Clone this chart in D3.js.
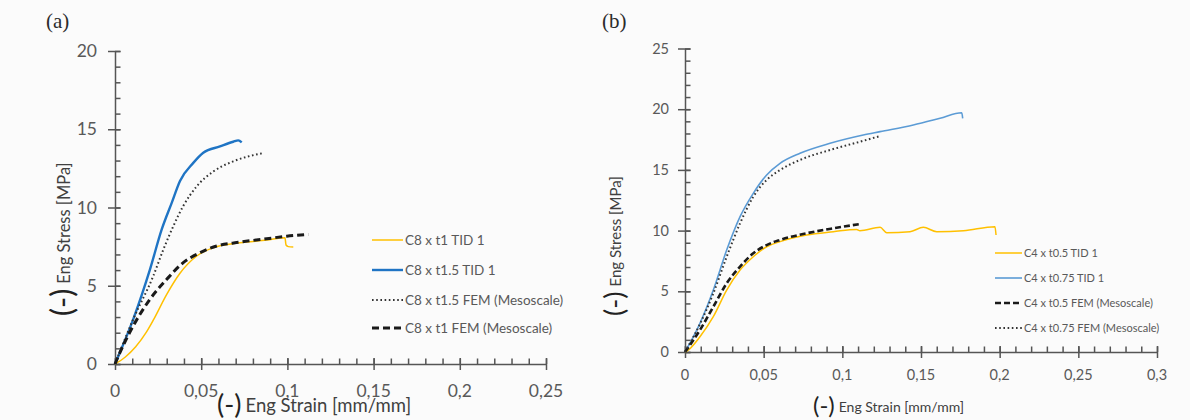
<!DOCTYPE html>
<html>
<head>
<meta charset="utf-8">
<script src="https://cdn.jsdelivr.net/npm/d3@7"></script>
<style>
  html, body { margin: 0; padding: 0; background: #fbfbfb; }
  svg { display: block; font-family: Lato, "Open Sans", sans-serif; }
  .tick-label { fill: #595959; }
  .legend-text { fill: #595959; }
</style>
</head>
<body>
<svg id="chart" width="1190" height="420"></svg>
<script>
// Panel (a): C8 specimens, strain [mm/mm] vs stress [MPa]
const xTicksA = [0, 0.05, 0.1, 0.15, 0.2, 0.25];
const yTicksA = [0, 5, 10, 15, 20];

const c8t1Tid = [
  [0, 0], [0.006, 0.45], [0.012, 1.1], [0.018, 2.0], [0.0222, 2.8], [0.03, 4.45], [0.0377, 5.8],
  [0.0474, 6.9], [0.057, 7.43], [0.0725, 7.75], [0.088, 7.92], [0.0986, 8.07],
  [0.0992, 7.6], [0.1005, 7.5], [0.1034, 7.47]
];
const c8t15Tid = [
  [0, 0], [0.0106, 2.87], [0.0203, 6.05], [0.0271, 8.6], [0.0329, 10.3], [0.0377, 11.7],
  [0.0454, 12.85], [0.0512, 13.5], [0.0609, 13.9], [0.0686, 14.2], [0.0715, 14.29], [0.0735, 14.16]
];
const c8t15Fem = [
  [0, 0], [0.0106, 2.87], [0.0222, 5.62], [0.028, 7.3], [0.0338, 8.8], [0.0396, 10.1],
  [0.0474, 11.35], [0.057, 12.3], [0.0686, 12.95], [0.086, 13.48]
];
const c8t1Fem = [
  [0, 0], [0.0029, 0.74], [0.0106, 2.44], [0.0203, 4.14], [0.03, 5.41], [0.0396, 6.48],
  [0.0493, 7.11], [0.059, 7.54], [0.0725, 7.79], [0.088, 8.0], [0.0996, 8.17], [0.1121, 8.28]
];

// Panel (b): C4 specimens
const xTicksB = [0, 0.05, 0.1, 0.15, 0.2, 0.25, 0.3];
const yTicksB = [0, 5, 10, 15, 20, 25];

const c4t05Tid = [
  [0, 0], [0.001, 0.06], [0.0095, 1.26], [0.018, 2.91], [0.0265, 5.1], [0.035, 6.75],
  [0.0434, 7.85], [0.0519, 8.67], [0.0604, 9.09], [0.0773, 9.64], [0.0943, 9.91],
  [0.1091, 10.1], [0.1112, 9.99], [0.124, 10.27], [0.1282, 9.83], [0.143, 9.91],
  [0.1515, 10.27], [0.16, 9.91], [0.177, 9.99], [0.197, 10.32], [0.1977, 9.64]
];
const c4t075Tid = [
  [0, 0], [0.0095, 2.36], [0.018, 5.1], [0.0265, 8.4], [0.035, 11.15], [0.0434, 13.07],
  [0.0519, 14.58], [0.0604, 15.54], [0.0731, 16.37], [0.0922, 17.19], [0.1133, 17.87],
  [0.124, 18.15], [0.1451, 18.7], [0.1621, 19.25], [0.1759, 19.71], [0.1765, 19.25]
];
const c4t05Fem = [
  [0, 0], [0.0095, 1.81], [0.018, 3.73], [0.0265, 5.66], [0.035, 7.03], [0.0434, 8.13],
  [0.0519, 8.81], [0.0604, 9.23], [0.0773, 9.78], [0.0943, 10.19], [0.1112, 10.54]
];
const c4t075Fem = [
  [0, 0], [0.0095, 2.3], [0.018, 4.83], [0.0265, 7.85], [0.035, 10.6], [0.0434, 12.79],
  [0.0519, 14.17], [0.0604, 14.99], [0.0731, 15.82], [0.0922, 16.64], [0.1112, 17.32], [0.124, 17.79]
];

const legendA = ['C8 x t1 TID 1', 'C8 x t1.5 TID 1', 'C8 x t1.5 FEM (Mesoscale)', 'C8 x t1 FEM (Mesoscale)'];
const legendB = ['C4 x t0.5 TID 1', 'C4 x t0.75 TID 1', 'C4 x t0.5 FEM (Mesoscale)', 'C4 x t0.75 FEM (Mesoscale)'];

const styles = {
  yellow: { stroke: '#ffc000', width: 1.5, dash: null },
  blueDark: { stroke: '#1f74c4', width: 2.4, dash: null },
  blueLight: { stroke: '#5b9bd5', width: 1.6, dash: null },
  dashed: { stroke: '#1a1a1a', width: 3, dash: '7,4' },
  dashedB: { stroke: '#1a1a1a', width: 2.6, dash: '6,3' },
  dotted: { stroke: '#333', width: 2, dash: '1.6,2.6' }
};

const AXIS_COLOR = '#555';
const fmt = d => d === 0 ? '0' : String(d).replace('.', ',');

const svg = d3.select('#chart');

function styleAxis(sel) {
  sel.selectAll('line, path')
    .attr('stroke', AXIS_COLOR)
    .attr('stroke-width', 1.5);
}

function drawAxes(g, p, x, y) {
  // minor ticks (every 0.01 strain, every 1 MPa), pointing into the plot
  const xMinor = d3.range(p.xDomain[0], p.xDomain[1] + 1e-9, 0.01);
  const yMinor = d3.range(p.yDomain[0], p.yDomain[1] + 1e-9, 1);

  const xMin = g.append('g')
    .attr('transform', `translate(0,${y(0)})`)
    .call(d3.axisBottom(x).tickValues(xMinor).tickSize(-5.5).tickSizeOuter(0).tickFormat(''));
  xMin.select('.domain').remove();
  styleAxis(xMin);

  const yMin = g.append('g')
    .attr('transform', `translate(${x(0)},0)`)
    .call(d3.axisLeft(y).tickValues(yMinor).tickSize(-5.5).tickSizeOuter(0).tickFormat(''));
  yMin.select('.domain').remove();
  styleAxis(yMin);

  // major ticks cross the axis line
  const xAxis = g.append('g')
    .attr('transform', `translate(0,${y(0)})`)
    .call(d3.axisBottom(x).tickValues(p.xTicks).tickSizeOuter(0).tickFormat(''));
  xAxis.selectAll('.tick line').attr('y1', -6).attr('y2', 6);
  styleAxis(xAxis);

  const yAxis = g.append('g')
    .attr('transform', `translate(${x(0)},0)`)
    .call(d3.axisLeft(y).tickValues(p.yTicks).tickSizeOuter(0).tickFormat(''));
  yAxis.selectAll('.tick line').attr('x1', -7).attr('x2', 5.5);
  styleAxis(yAxis);
}

function drawPanel(p) {
  const x = d3.scaleLinear().domain(p.xDomain).range(p.xRange);
  const y = d3.scaleLinear().domain(p.yDomain).range(p.yRange);
  const g = svg.append('g');

  const labels = g.append('g');
  labels.selectAll('text.xlab').data(p.xTicks).enter().append('text')
    .attr('class', 'tick-label xlab')
    .attr('x', d => x(d))
    .attr('y', p.xLabelY)
    .attr('text-anchor', 'middle')
    .style('font-size', p.tickFont + 'px')
    .text(fmt);

  labels.selectAll('text.ylab').data(p.yTicks).enter().append('text')
    .attr('class', 'tick-label ylab')
    .attr('x', p.yLabelX)
    .attr('y', d => y(d))
    .attr('dy', '0.35em')
    .attr('text-anchor', 'end')
    .style('font-size', p.tickFont + 'px')
    .text(d => d);

  // axis titles
  const xt = g.append('text')
    .attr('x', p.xTitle[0]).attr('y', p.xTitle[1])
    .attr('fill', '#404040');
  xt.append('tspan').style('font-size', p.parenFont + 'px').attr('fill', '#222').text('(-)');
  xt.append('tspan').style('font-size', p.titleFont + 'px').attr('dx', 4).attr('dy', -2).text('Eng Strain [mm/mm]');

  const yt = g.append('text')
    .attr('transform', `translate(${p.yTitle[0]},${p.yTitle[1]}) rotate(-90)`)
    .attr('fill', '#404040');
  yt.append('tspan').style('font-size', (p.parenFont + 3) + 'px').attr('fill', '#222').text('(-)');
  yt.append('tspan').style('font-size', p.yTitleFont + 'px').attr('dx', 5).attr('dy', -3).text('Eng Stress [MPa]');

  // panel letter
  g.append('text')
    .attr('x', p.letter[0]).attr('y', p.letter[1])
    .style('font-family', '"Liberation Serif", "DejaVu Serif", serif')
    .style('font-size', '21px')
    .attr('fill', '#2b2b2b')
    .text(p.letterText);

  // legend
  const leg = g.append('g');
  p.series.forEach((s, i) => {
    const ly = p.legend.y[i];
    leg.append('line')
      .attr('x1', p.legend.x).attr('x2', p.legend.x + p.legend.len)
      .attr('y1', ly).attr('y2', ly)
      .attr('stroke', s.style.stroke)
      .attr('stroke-width', s.style.width)
      .attr('stroke-dasharray', s.style.dash);
    leg.append('text')
      .attr('class', 'legend-text')
      .attr('x', p.legend.x + p.legend.len + 2)
      .attr('y', ly)
      .attr('dy', '0.35em')
      .style('font-size', p.legend.font + 'px')
      .text(p.legend.labels[i]);
  });

  drawAxes(g, p, x, y);

  // series on top of the axes
  const line = d3.line().x(d => x(d[0])).y(d => y(d[1])).curve(d3.curveMonotoneX);
  p.series.forEach(s => {
    g.append('path')
      .datum(s.data)
      .attr('d', line)
      .attr('fill', 'none')
      .attr('stroke', s.style.stroke)
      .attr('stroke-width', s.style.width)
      .attr('stroke-dasharray', s.style.dash);
  });
}

drawPanel({
  xDomain: [0, 0.25], yDomain: [0, 20],
  xRange: [115, 546], yRange: [364, 51],
  xTicks: xTicksA, yTicks: yTicksA,
  tickFont: 17.5, xLabelY: 397, yLabelX: 97,
  parenFont: 27, titleFont: 18.5, yTitleFont: 16.5,
  xTitle: [217, 414], yTitle: [73, 316],
  letter: [46, 28], letterText: '(a)',
  series: [
    { data: c8t1Tid, style: styles.yellow },
    { data: c8t15Tid, style: styles.blueDark },
    { data: c8t15Fem, style: styles.dotted },
    { data: c8t1Fem, style: styles.dashed }
  ],
  legend: { x: 372, len: 31, y: [240, 270, 300, 328], font: 13.5, labels: legendA }
});

drawPanel({
  xDomain: [0, 0.3], yDomain: [0, 25],
  xRange: [685, 1157], yRange: [352, 48.5],
  xTicks: xTicksB, yTicks: yTicksB,
  tickFont: 14.5, xLabelY: 380, yLabelX: 669,
  parenFont: 24, titleFont: 14, yTitleFont: 15,
  xTitle: [813, 414], yTitle: [624, 316],
  letter: [602, 28], letterText: '(b)',
  series: [
    { data: c4t05Tid, style: styles.yellow },
    { data: c4t075Tid, style: styles.blueLight },
    { data: c4t05Fem, style: styles.dashedB },
    { data: c4t075Fem, style: styles.dotted }
  ],
  legend: { x: 995, len: 27, y: [253, 278, 303, 328], font: 11, labels: legendB }
});
</script>
</body>
</html>
